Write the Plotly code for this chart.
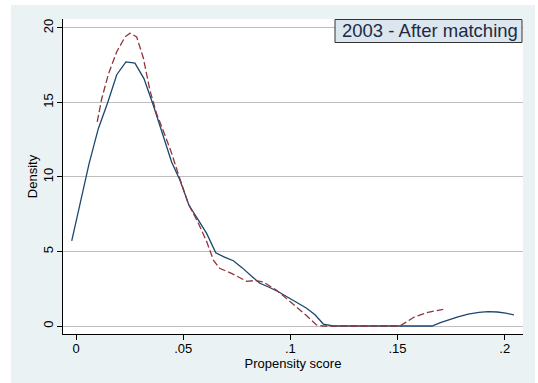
import plotly.graph_objects as go

# Kernel density (treated) - solid blue
blue_x = [-0.0020, 0.0019, 0.0061, 0.0104, 0.0148, 0.0190, 0.0233, 0.0275, 0.0317,
          0.0361, 0.0407, 0.0446, 0.0485, 0.0527, 0.0571, 0.0610, 0.0652, 0.0695,
          0.0734, 0.0776, 0.0818, 0.0858, 0.0901, 0.0944, 0.0986, 0.1030, 0.1076,
          0.1115, 0.1154, 0.1200, 0.1300, 0.1400, 0.1500, 0.1600, 0.1661, 0.1700,
          0.1740, 0.1782, 0.1830, 0.1880, 0.1922, 0.1965, 0.2005, 0.2043]
blue_y = [5.71, 8.2, 10.9, 13.24, 15.0, 16.86, 17.72, 17.64, 16.6,
          14.8, 12.8, 11.0, 9.78, 8.1, 7.1, 6.2, 4.91, 4.6,
          4.38, 3.9, 3.35, 2.87, 2.6, 2.30, 1.95, 1.57, 1.19,
          0.75, 0.13, 0.0, 0.0, 0.0, 0.0, 0.0, 0.0, 0.22,
          0.43, 0.62, 0.80, 0.92, 0.96, 0.94, 0.86, 0.74]

# Kernel density (control, matched) - dashed red
red_x = [0.0099, 0.0120, 0.0151, 0.0190, 0.0229, 0.0252, 0.0283, 0.0314, 0.0345,
         0.0376, 0.0415, 0.0446, 0.0477, 0.0524, 0.0571, 0.0610, 0.0641, 0.0670,
         0.0730, 0.0796, 0.0836, 0.0874, 0.0936, 0.1020, 0.1075, 0.1122, 0.1150,
         0.1300, 0.1400, 0.1510, 0.1545, 0.1580, 0.1642, 0.1713]
red_y = [13.7, 15.25, 16.9, 18.4, 19.4, 19.65, 19.4, 18.0, 15.8,
         14.25, 12.8, 11.6, 10.2, 8.2, 6.9, 5.65, 4.42, 3.87,
         3.5, 3.0, 3.05, 2.95, 2.4, 1.4, 0.7, 0.07, 0.0,
         0.0, 0.0, 0.0, 0.3, 0.62, 0.92, 1.12]

x_ticks = [0, 0.05, 0.1, 0.15, 0.2]
x_tick_labels = ["0", ".05", ".1", ".15", ".2"]
y_ticks = [0, 5, 10, 15, 20]
y_tick_labels = ["0", "5", "10", "15", "20"]

title_text = "2003 - After matching"
x_title = "Propensity score"
y_title = "Density"

FONT = "Arial, Liberation Sans, sans-serif"
W, H = 538, 383
L, R, T, B = 63, 15, 19, 49
PW, PH = W - L - R, H - T - B


def px_x(p):
    return (p - L) / PW


def px_y(p):
    return (H - B - p) / PH


fig = go.Figure()
fig.add_trace(go.Scatter(x=blue_x, y=blue_y, mode="lines",
                         line=dict(color="#1A476F", width=1.3),
                         showlegend=False, hoverinfo="skip"))
fig.add_trace(go.Scatter(x=red_x, y=red_y, mode="lines",
                         line=dict(color="#90353B", width=1.3, dash="7px,3px"),
                         showlegend=False, hoverinfo="skip"))

shapes = [
    # white outer margins around the light background
    dict(type="rect", xref="paper", yref="paper", x0=px_x(-5), x1=px_x(11),
         y0=px_y(390), y1=px_y(-5), fillcolor="white", line_width=0, layer="below"),
    dict(type="rect", xref="paper", yref="paper", x0=px_x(-5), x1=px_x(545),
         y0=px_y(5), y1=px_y(-5), fillcolor="white", line_width=0, layer="below"),
    dict(type="rect", xref="paper", yref="paper", x0=px_x(535), x1=px_x(545),
         y0=px_y(390), y1=px_y(-5), fillcolor="white", line_width=0, layer="below"),
    # title box
    dict(type="rect", xref="paper", yref="paper", x0=px_x(335), x1=px_x(522),
         y0=px_y(42.5), y1=px_y(19.5), fillcolor="#DCE6EE",
         line=dict(color="#333333", width=1), layer="above"),
]

fig.update_layout(
    width=W, height=H,
    margin=dict(l=L, r=R, t=T, b=B, pad=0),
    paper_bgcolor="#EAF2F3",
    plot_bgcolor="white",
    font=dict(family=FONT, size=13, color="black"),
    shapes=shapes,
    annotations=[dict(text=title_text, xref="paper", yref="paper",
                      x=px_x(430), y=px_y(31), xanchor="center", yanchor="middle",
                      showarrow=False, font=dict(family=FONT, size=18.5, color="#1C2A44"))],
    xaxis=dict(range=[-0.00607, 0.20854], tickvals=x_ticks, ticktext=x_tick_labels,
               showgrid=False, zeroline=False, showline=True, linecolor="black",
               linewidth=1, ticks="outside", ticklen=5, tickcolor="black",
               ticklabelstandoff=-3,
               tickfont=dict(size=13), title=dict(text=x_title, font=dict(size=13), standoff=2)),
    yaxis=dict(range=[-0.537, 20.6], tickvals=y_ticks, ticktext=y_tick_labels,
               showgrid=True, gridcolor="#BEBEBE", gridwidth=1, zeroline=False,
               showline=True, linecolor="black", linewidth=1, ticks="outside",
               ticklen=5, tickcolor="black", tickangle=-90, tickfont=dict(size=13),
               ticklabelstandoff=-1,
               title=dict(text=y_title, font=dict(size=13), standoff=0)),
)

fig.write_html("out.html")
